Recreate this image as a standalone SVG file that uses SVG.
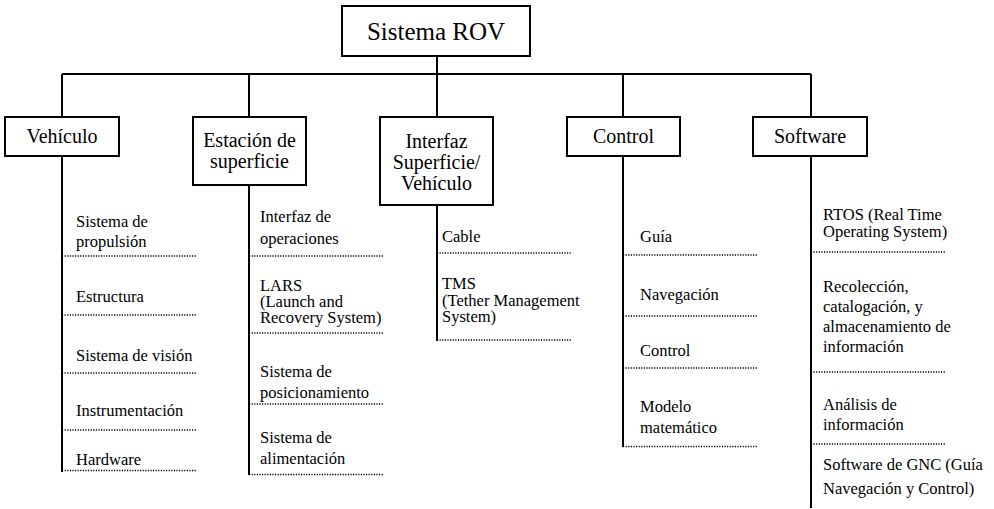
<svg xmlns="http://www.w3.org/2000/svg" width="994" height="509" viewBox="0 0 994 509">
<style>
.box{fill:#fff;stroke:#000;stroke-width:2}
.ln{stroke:#000;stroke-width:2;fill:none}
.dot{stroke:#000;stroke-width:1.3;stroke-dasharray:1.2 1.4;fill:none}
.root{font-size:25px}
.hd{font-size:20px}
.lf text{font-size:16.5px}
</style>
<rect width="994" height="509" fill="#fff"/>
<g id="connectors">
<path class="ln" d="M437 56V74M62 74H811M62 74V117M249 74V117M437 74V117M623 74V117M811 74V117"/>
<path class="ln" d="M62 156V472M249 185V475M437 205V341M623 156V447M811 156V508"/>
<path class="dot" d="M62 256H197M62 315H197M62 373H197M62 430H197M62 470.5H197"/>
<path class="dot" d="M249 256H384M249 333H384M249 404H384M249 474.5H384"/>
<path class="dot" d="M437 253H571M437 340H571"/>
<path class="dot" d="M623 255H757M623 316H757M623 368H757M623 446.5H757"/>
<path class="dot" d="M811 252H945M811 372H945M811 444H945"/>
</g>
<g font-family="Liberation Serif, 'Times New Roman', serif" fill="#000">
<g id="root">
<rect class="box" x="342" y="6" width="188" height="50"/>
<text class="root" x="436" y="40" text-anchor="middle">Sistema ROV</text>
</g>
<g id="vehiculo">
<rect class="box" x="5" y="117" width="114" height="39"/>
<text class="hd" x="62" y="143" text-anchor="middle">Vehículo</text>
</g>
<g id="estacion">
<rect class="box" x="193" y="117" width="113" height="68"/>
<text class="hd" x="249.5" y="147" text-anchor="middle">Estación de</text>
<text class="hd" x="249.5" y="168" text-anchor="middle">superficie</text>
</g>
<g id="interfaz">
<rect class="box" x="380" y="117" width="113" height="88"/>
<text class="hd" x="436.5" y="148" text-anchor="middle">Interfaz</text>
<text class="hd" x="436.5" y="169" text-anchor="middle">Superficie/</text>
<text class="hd" x="436.5" y="190" text-anchor="middle">Vehículo</text>
</g>
<g id="control">
<rect class="box" x="567" y="117" width="113" height="39"/>
<text class="hd" x="623.5" y="143" text-anchor="middle">Control</text>
</g>
<g id="software">
<rect class="box" x="753" y="117" width="114" height="39"/>
<text class="hd" x="810" y="143" text-anchor="middle">Software</text>
</g>
<g id="vehiculo-items" class="lf">
<text x="76" y="227">Sistema de</text>
<text x="76" y="247">propulsión</text>
<text x="76" y="302">Estructura</text>
<text x="76" y="361">Sistema de visión</text>
<text x="76" y="416">Instrumentación</text>
<text x="76" y="465">Hardware</text>
</g>
<g id="estacion-items" class="lf">
<text x="260" y="222">Interfaz de</text>
<text x="260" y="244">operaciones</text>
<text x="260" y="291">LARS</text>
<text x="260" y="307">(Launch and</text>
<text x="260" y="323">Recovery System)</text>
<text x="260" y="377">Sistema de</text>
<text x="260" y="398">posicionamiento</text>
<text x="260" y="443">Sistema de</text>
<text x="260" y="464">alimentación</text>
</g>
<g id="interfaz-items" class="lf">
<text x="442" y="242">Cable</text>
<text x="442" y="289">TMS</text>
<text x="442" y="306">(Tether Management</text>
<text x="442" y="322">System)</text>
</g>
<g id="control-items" class="lf">
<text x="640" y="242">Guía</text>
<text x="640" y="300">Navegación</text>
<text x="640" y="356">Control</text>
<text x="640" y="412">Modelo</text>
<text x="640" y="433">matemático</text>
</g>
<g id="software-items" class="lf">
<text x="823" y="220">RTOS (Real Time</text>
<text x="823" y="237">Operating System)</text>
<text x="823" y="292">Recolección,</text>
<text x="823" y="312">catalogación, y</text>
<text x="823" y="332">almacenamiento de</text>
<text x="823" y="352">información</text>
<text x="823" y="410">Análisis de</text>
<text x="823" y="430">información</text>
<text x="823" y="470">Software de GNC (Guía</text>
<text x="823" y="494">Navegación y Control)</text>
</g>
</g>
</svg>
